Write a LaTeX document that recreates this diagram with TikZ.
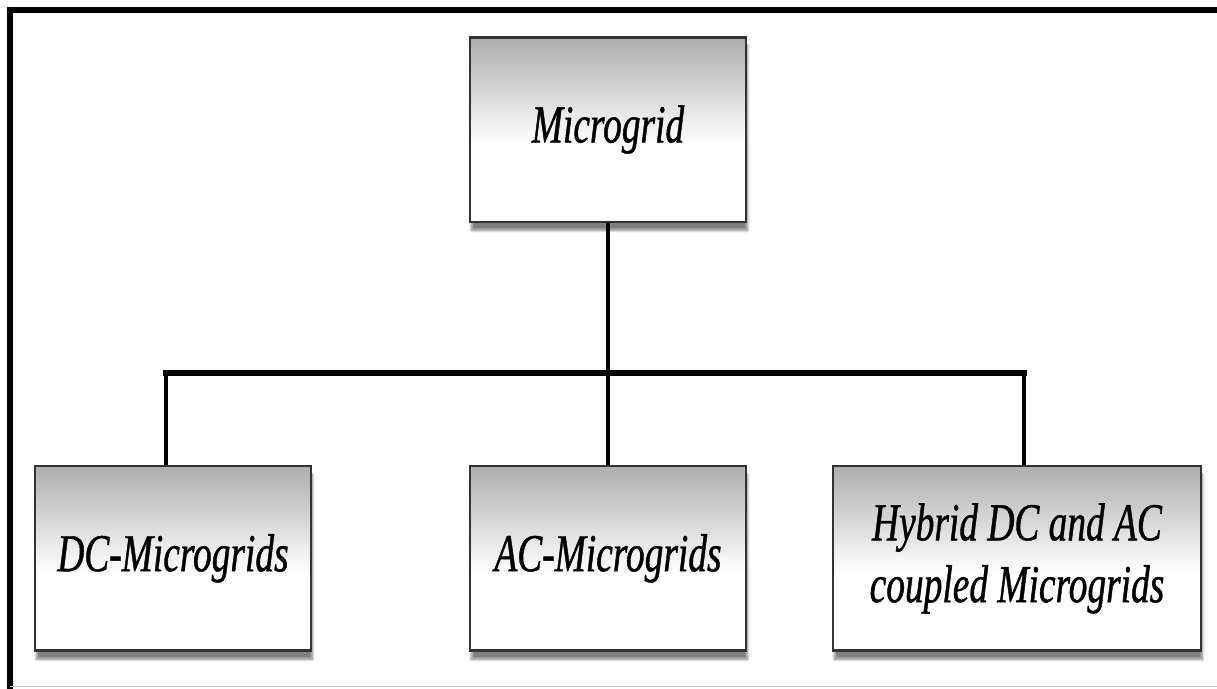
\documentclass[tikz,border=0pt]{standalone}
\usepackage{fontspec}
\setmainfont[FakeStretch=0.7, ItalicFeatures={FakeBold=0.8}]{Liberation Serif}
\usetikzlibrary{shadows.blur}

\pgfdeclareverticalshading{boxfade}{100bp}{color(0bp)=(white); color(25bp)=(white); color(46bp)=(white); color(75bp)=(black!32); color(100bp)=(black!32)}

\tikzset{
  gridbox/.style={draw=black!80, line width=2pt, shading=boxfade,
    minimum width=6.9cm, minimum height=4.62cm, align=center,
    font=\fontsize{38}{44}\selectfont\itshape,
    blur shadow={shadow xshift=1pt, shadow yshift=-6pt, shadow blur steps=10, shadow opacity=50}},
  link/.style={line width=2.6pt},
  bus/.style={line width=4pt, line cap=rect},
  frame/.style={line width=3.8pt},
}

\begin{document}
\begin{tikzpicture}
\useasboundingbox (0,0) rectangle (30.425,17.2);
\draw[frame] (30.5,16.95) -- (0.25,16.95) -- (0.25,-0.1);
\draw[black!25, line width=0.6pt] (0.25,0.03) -- (30.5,0.03);

\node[gridbox] (mg) at (15.2,13.96) {Microgrid};
\node[gridbox] (dc) at (4.325,3.24) {DC-Microgrids};
\node[gridbox] (ac) at (15.2,3.24) {AC-Microgrids};
\node[gridbox, minimum width=9.2cm] (hy) at (25.425,3.24) {Hybrid DC and AC\\coupled Microgrids};

\coordinate (bus) at (15.2,7.875);
\draw[link] (mg.south) -- (ac.north);
\draw[link] ([xshift=-0.175cm]dc.north) -- ([xshift=-0.175cm]dc.north |- bus);
\draw[link] ([xshift=0.175cm]hy.north) -- ([xshift=0.175cm]hy.north |- bus);
\draw[bus] ([xshift=-0.175cm]dc.north |- bus) -- ([xshift=0.175cm]hy.north |- bus);
\end{tikzpicture}
\end{document}
